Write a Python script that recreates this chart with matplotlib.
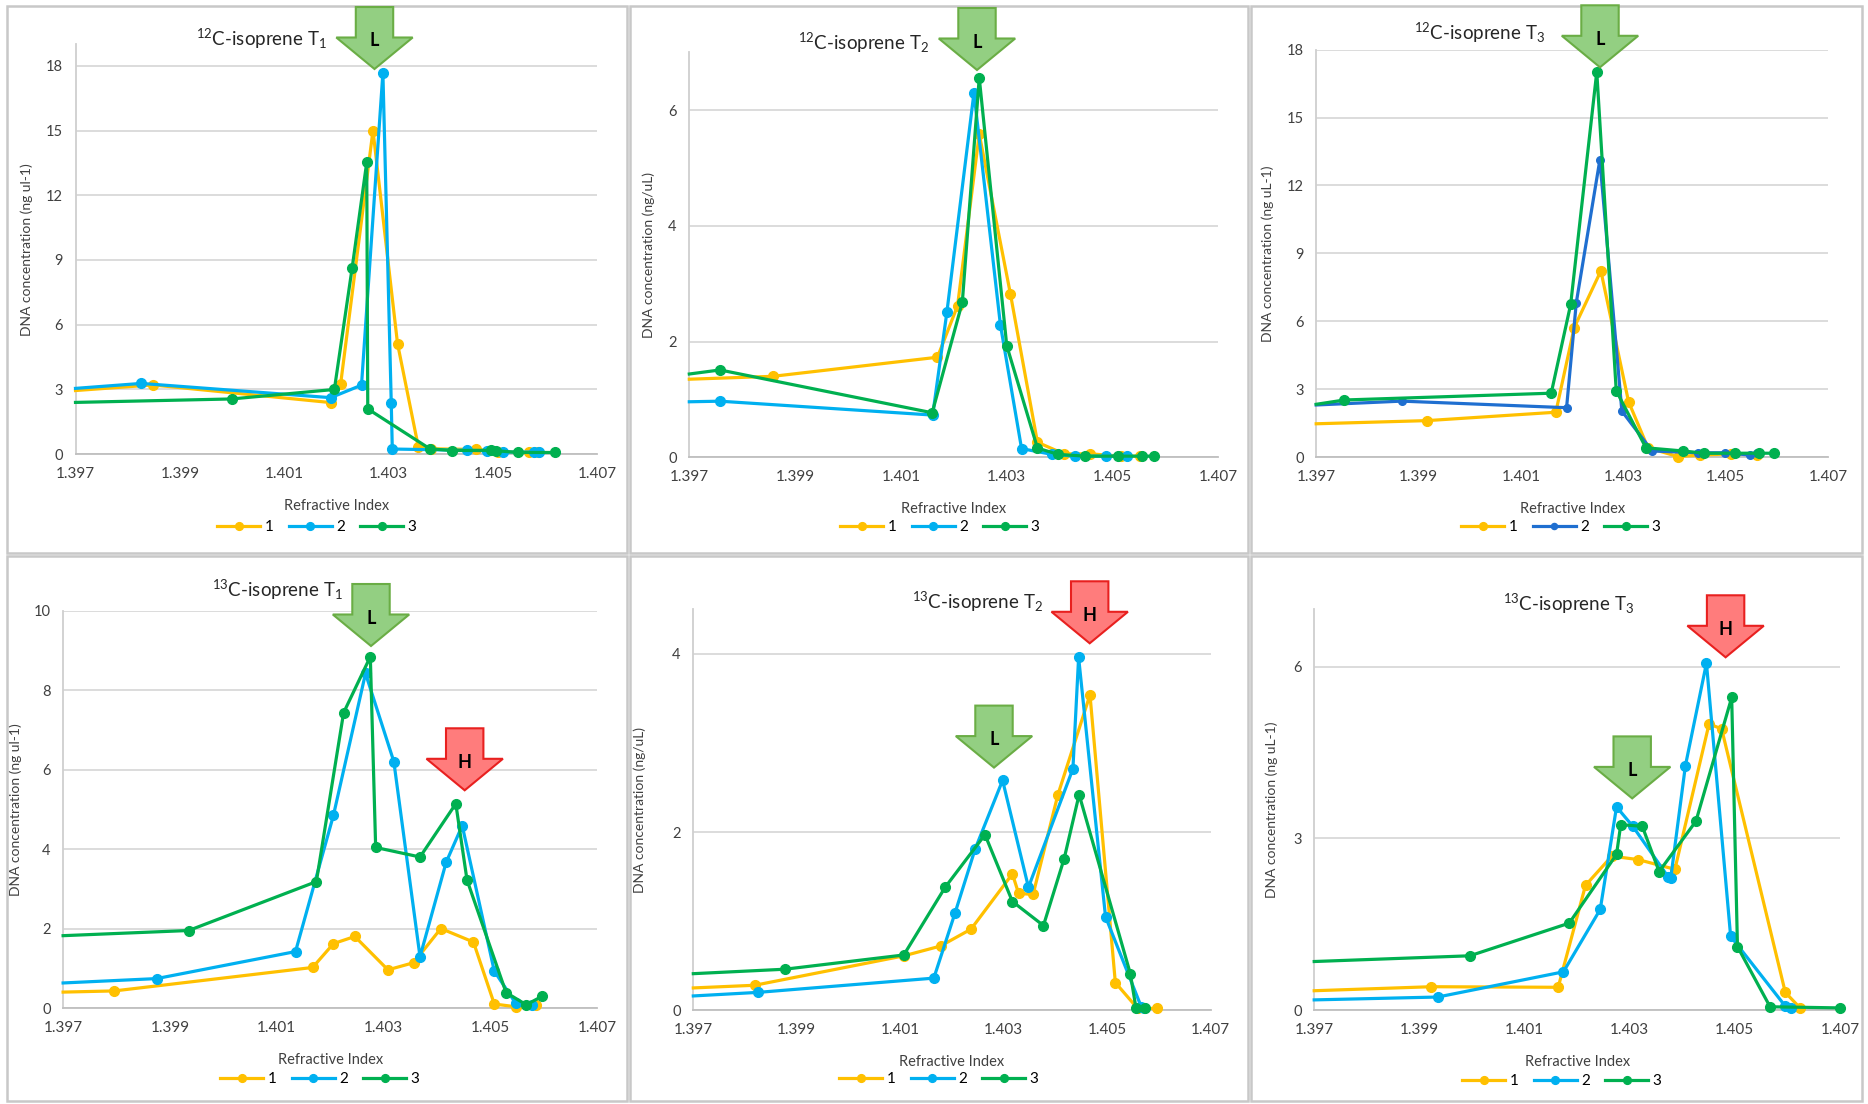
import matplotlib

matplotlib.use("Agg")
import matplotlib.pyplot as plt
from matplotlib.lines import Line2D
from matplotlib.patches import Polygon, Rectangle

plt.rcParams["font.family"] = ["Lato", "DejaVu Sans"]
plt.rcParams["mathtext.fontset"] = "custom"
plt.rcParams["mathtext.rm"] = "Lato"
plt.rcParams["mathtext.it"] = "Lato:italic"
plt.rcParams["mathtext.bf"] = "Lato:bold"
plt.rcParams["mathtext.default"] = "rm"

# ---- data (refractive index, DNA concentration); first value of each trace is
# where the line enters at the left edge of the plot (no marker there)
x_12t1_1 = [1.397, 1.39848, 1.40190, 1.40208, 1.40270, 1.40317, 1.40357, 1.40381, 1.40467, 1.40510, 1.40568, 1.40587]
y_12t1_1 = [2.95, 3.21, 2.39, 3.25, 15.0, 5.13, 0.33, 0.25, 0.22, 0.12, 0.08, 0.08]
x_12t1_2 = [1.397, 1.39826, 1.40189, 1.40248, 1.40289, 1.40305, 1.40307, 1.40450, 1.40488, 1.40520, 1.40579, 1.40589]
y_12t1_2 = [3.05, 3.28, 2.62, 3.20, 17.67, 2.38, 0.24, 0.18, 0.16, 0.10, 0.10, 0.10]
x_12t1_3 = [1.397, 1.39999, 1.40196, 1.40230, 1.40258, 1.40260, 1.40379, 1.40421, 1.40496, 1.40506, 1.40548, 1.40619]
y_12t1_3 = [2.40, 2.56, 3.00, 8.62, 13.52, 2.10, 0.25, 0.17, 0.18, 0.16, 0.08, 0.08]

x_12t2_1 = [1.397, 1.39858, 1.40169, 1.40207, 1.40248, 1.40307, 1.40358, 1.40408, 1.40458, 1.40515, 1.40552]
y_12t2_1 = [1.35, 1.40, 1.73, 2.62, 5.59, 2.82, 0.26, 0.06, 0.06, 0.02, 0.02]
x_12t2_2 = [1.397, 1.39758, 1.40160, 1.40187, 1.40238, 1.40288, 1.40328, 1.40386, 1.40429, 1.40488, 1.40528]
y_12t2_2 = [0.96, 0.97, 0.73, 2.52, 6.30, 2.29, 0.15, 0.05, 0.02, 0.02, 0.02]
x_12t2_3 = [1.397, 1.39758, 1.40159, 1.40216, 1.40248, 1.40300, 1.40358, 1.40397, 1.40448, 1.40510, 1.40556, 1.40578]
y_12t2_3 = [1.44, 1.51, 0.77, 2.68, 6.56, 1.93, 0.16, 0.05, 0.02, 0.02, 0.02, 0.02]

x_12t3_1 = [1.397, 1.39917, 1.40168, 1.40204, 1.40256, 1.40310, 1.40348, 1.40407, 1.40450, 1.40510, 1.40560]
y_12t3_1 = [1.48, 1.62, 1.99, 5.73, 8.23, 2.46, 0.42, 0.03, 0.10, 0.15, 0.12]
x_12t3_2 = [1.397, 1.39867, 1.40189, 1.40208, 1.40254, 1.40297, 1.40356, 1.40446, 1.40498, 1.40547, 1.40560]
y_12t3_2 = [2.31, 2.48, 2.19, 6.83, 13.13, 2.04, 0.28, 0.20, 0.20, 0.10, 0.20]
x_12t3_3 = [1.397, 1.39755, 1.40159, 1.40197, 1.40248, 1.40286, 1.40344, 1.40416, 1.40458, 1.40518, 1.40565, 1.40595]
y_12t3_3 = [2.34, 2.53, 2.83, 6.75, 17.02, 2.94, 0.42, 0.28, 0.18, 0.18, 0.18, 0.18]

x_13t1_1 = [1.397, 1.39796, 1.40167, 1.40206, 1.40246, 1.40308, 1.40356, 1.40407, 1.40468, 1.40507, 1.40548, 1.40586]
y_13t1_1 = [0.41, 0.44, 1.03, 1.63, 1.81, 0.97, 1.15, 2.01, 1.67, 0.11, 0.04, 0.09]
x_13t1_2 = [1.397, 1.39875, 1.40135, 1.40206, 1.40266, 1.40319, 1.40368, 1.40417, 1.40447, 1.40507, 1.40547, 1.40578]
y_13t1_2 = [0.64, 0.75, 1.43, 4.86, 8.43, 6.21, 1.30, 3.68, 4.60, 0.94, 0.13, 0.09]
x_13t1_3 = [1.397, 1.39935, 1.40174, 1.40225, 1.40275, 1.40285, 1.40368, 1.40435, 1.40456, 1.40529, 1.40567, 1.40597]
y_13t1_3 = [1.83, 1.96, 3.19, 7.44, 8.85, 4.05, 3.81, 5.15, 3.23, 0.40, 0.09, 0.31]

x_13t2_1 = [1.397, 1.39819, 1.40107, 1.40178, 1.40237, 1.40317, 1.40329, 1.40357, 1.40405, 1.40467, 1.40516, 1.40559, 1.40597]
y_13t2_1 = [0.25, 0.28, 0.61, 0.72, 0.91, 1.53, 1.31, 1.30, 2.42, 3.54, 0.31, 0.02, 0.02]
x_13t2_2 = [1.397, 1.39825, 1.40165, 1.40206, 1.40245, 1.40298, 1.40348, 1.40434, 1.40445, 1.40497, 1.40566, 1.40572]
y_13t2_2 = [0.16, 0.20, 0.36, 1.09, 1.81, 2.58, 1.38, 2.71, 3.96, 1.05, 0.04, 0.02]
x_13t2_3 = [1.397, 1.39877, 1.40107, 1.40187, 1.40264, 1.40317, 1.40377, 1.40417, 1.40446, 1.40545, 1.40556, 1.40574]
y_13t2_3 = [0.41, 0.46, 0.62, 1.38, 1.97, 1.22, 0.95, 1.70, 2.42, 0.41, 0.02, 0.02]

x_13t3_1 = [1.397, 1.39923, 1.40164, 1.40216, 1.40266, 1.40316, 1.40386, 1.40451, 1.40475, 1.40596, 1.40624]
y_13t3_1 = [0.34, 0.41, 0.40, 2.18, 2.69, 2.63, 2.46, 5.00, 4.91, 0.31, 0.04]
x_13t3_2 = [1.397, 1.39935, 1.40174, 1.40244, 1.40275, 1.40306, 1.40373, 1.40378, 1.40406, 1.40446, 1.40492, 1.40596, 1.40607]
y_13t3_2 = [0.18, 0.23, 0.67, 1.76, 3.55, 3.21, 2.33, 2.30, 4.27, 6.06, 1.29, 0.07, 0.04]
x_13t3_3 = [1.397, 1.39996, 1.40185, 1.40275, 1.40283, 1.40324, 1.40356, 1.40426, 1.40494, 1.40505, 1.40567, 1.40700]
y_13t3_3 = [0.85, 0.95, 1.52, 2.72, 3.24, 3.21, 2.42, 3.30, 5.46, 1.11, 0.06, 0.04]

series_names = ["1", "2", "3"]
x_ticks = [1.397, 1.399, 1.401, 1.403, 1.405, 1.407]

titles = [
    r"$^{12}$C-isoprene T$_{1}$", r"$^{12}$C-isoprene T$_{2}$", r"$^{12}$C-isoprene T$_{3}$",
    r"$^{13}$C-isoprene T$_{1}$", r"$^{13}$C-isoprene T$_{2}$", r"$^{13}$C-isoprene T$_{3}$",
]
y_labels = [
    "DNA concentration (ng ul-1)", "DNA concentration (ng/uL)", "DNA concentration (ng uL-1)",
    "DNA concentration (ng ul-1)", "DNA concentration (ng/uL)", "DNA concentration (ng uL-1)",
]
y_maxes = [19, 7, 18, 10, 4.5, 7]
y_steps = [3, 2, 3, 2, 2, 3]

YELLOW = "#ffc000"
BLUE = "#00b0f0"
DARK_BLUE = "#1f6fd0"
GREEN = "#00b050"
ARROW_GREEN = ("#93cf82", "#6aad45")
ARROW_RED = ("#ff7c7c", "#e8201f")

W, H = 1868, 1104


def fx(px):
    return px / W


def fy(py):
    return 1 - py / H


# layout in reference pixels: axes box (left, top, right, bottom), title pos, legend pos,
# y-label offset, arrows (centre x, top y, letter)
panels = [
    dict(series=[(x_12t1_1, y_12t1_1), (x_12t1_2, y_12t1_2), (x_12t1_3, y_12t1_3)],
         box=(75.5, 44.2, 597.4, 454.2), title=(261, 39), legend=(317, 527), ylab=42,
         arrows=[(374.5, 7, "L")], blue=BLUE, frame=(7, 6, 627, 553)),
    dict(series=[(x_12t2_1, y_12t2_1), (x_12t2_2, y_12t2_2), (x_12t2_3, y_12t2_3)],
         box=(689.3, 52.4, 1218.4, 457.3), title=(864, 42.5), legend=(940, 527), ylab=34,
         arrows=[(977, 8, "L")], blue=BLUE, frame=(630, 6, 1248, 553)),
    dict(series=[(x_12t3_1, y_12t3_1), (x_12t3_2, y_12t3_2), (x_12t3_3, y_12t3_3)],
         box=(1316.2, 49.6, 1828.2, 457.3), title=(1480, 32.6), legend=(1561, 527), ylab=42,
         arrows=[(1600, 5.3, "L")], blue=DARK_BLUE, frame=(1251, 6, 1862, 553)),
    dict(series=[(x_13t1_1, y_13t1_1), (x_13t1_2, y_13t1_2), (x_13t1_3, y_13t1_3)],
         box=(63.1, 611, 597.4, 1008.4), title=(277, 590), legend=(320, 1079), ylab=41,
         arrows=[(371, 584, "L"), (464.7, 728.3, "H")], blue=BLUE, frame=(7, 556, 627, 1101)),
    dict(series=[(x_13t2_1, y_13t2_1), (x_13t2_2, y_13t2_2), (x_13t2_3, y_13t2_3)],
         box=(693.3, 609.3, 1210.5, 1010.2), title=(978, 602), legend=(939, 1079), ylab=47,
         arrows=[(1089.7, 581.3, "H"), (994, 705.6, "L")], blue=BLUE, frame=(630, 556, 1248, 1101)),
    dict(series=[(x_13t3_1, y_13t3_1), (x_13t3_2, y_13t3_2), (x_13t3_3, y_13t3_3)],
         box=(1314.2, 609.3, 1840, 1010.2), title=(1569, 604), legend=(1562, 1081), ylab=36,
         arrows=[(1725.6, 595.3, "H"), (1632.2, 736.4, "L")], blue=BLUE, frame=(1251, 556, 1862, 1101)),
]


def draw_arrow(fig, cx, top, label):
    face, edge = ARROW_GREEN if label == "L" else ARROW_RED
    sw, hw, sh, hh = 18.7, 38.2, 30.5, 31.5
    pts = [(cx - sw, top), (cx + sw, top), (cx + sw, top + sh), (cx + hw, top + sh),
           (cx, top + sh + hh), (cx - hw, top + sh), (cx - sw, top + sh)]
    fig.add_artist(Polygon([(fx(x), fy(y)) for x, y in pts], closed=True,
                           transform=fig.transFigure, facecolor=face, edgecolor=edge,
                           lw=1.5, zorder=10))
    fig.text(fx(cx), fy(top + 34), label, ha="center", va="center", fontsize=13,
             fontweight="bold", zorder=11)


fig = plt.figure(figsize=(W / 100, H / 100), dpi=100)

for i, p in enumerate(panels):
    l, t, r, b = p["frame"]
    fig.add_artist(Rectangle((fx(l), fy(b)), fx(r - l), (b - t) / H, transform=fig.transFigure,
                             fill=False, edgecolor="#c8c8c8", lw=1.8))

    l, t, r, b = p["box"]
    ax = fig.add_axes([fx(l), fy(b), fx(r - l), (b - t) / H])
    colors = [YELLOW, p["blue"], GREEN]
    handles = []
    for (xs, ys), color, name in zip(p["series"], colors, series_names):
        ms = 5.5 if color == DARK_BLUE else 7
        ax.plot(xs, ys, color=color, lw=2.3, marker="o", ms=ms, markevery=list(range(1, len(xs))),
                clip_on=False, zorder=3)
        handles.append(Line2D([], [], color=color, lw=2.3, marker="o", ms=ms * 0.8, label=name))

    ax.set_xlim(1.397, 1.407)
    ax.set_ylim(0, y_maxes[i])
    ax.set_xticks(x_ticks)
    ax.set_xticklabels([f"{v:.3f}" for v in x_ticks])
    step = y_steps[i]
    yt = [k * step for k in range(int(y_maxes[i] // step) + 1)]
    ax.set_yticks(yt)
    ax.set_yticklabels([str(v) for v in yt])
    ax.tick_params(length=0, labelsize=10.5, colors="#404040", pad=9)
    ax.tick_params(axis="x", labelsize=11)
    ax.grid(axis="y", color="#d9d9d9", lw=1.3)
    ax.set_axisbelow(True)
    for side in ("top", "right"):
        ax.spines[side].set_visible(False)
    ax.spines["left"].set_color("#cfcfcf")
    ax.spines["bottom"].set_color("#bfbfbf")
    ax.spines["left"].set_linewidth(1.3)
    ax.spines["bottom"].set_linewidth(1.3)

    ax.set_xlabel("Refractive Index", fontsize=10.5, color="#404040")
    ax.xaxis.set_label_coords(0.5, -45 / (b - t))
    ax.set_ylabel(y_labels[i], fontsize=10, color="#404040")
    ax.yaxis.set_label_coords(-p["ylab"] / (r - l), 0.5)

    fig.text(fx(p["title"][0]), fy(p["title"][1]), titles[i], ha="center", va="center",
             fontsize=13.5, color="#262626")

    lx, ly = p["legend"]
    ax.legend(handles=handles, loc="center", bbox_to_anchor=(fx(lx), fy(ly)),
              bbox_transform=fig.transFigure, ncol=3, frameon=False, fontsize=11,
              handlelength=2.8, handletextpad=0.3, columnspacing=1.0)

    for cx, top, letter in p["arrows"]:
        draw_arrow(fig, cx, top, letter)

fig.savefig("out.png", dpi=100)
